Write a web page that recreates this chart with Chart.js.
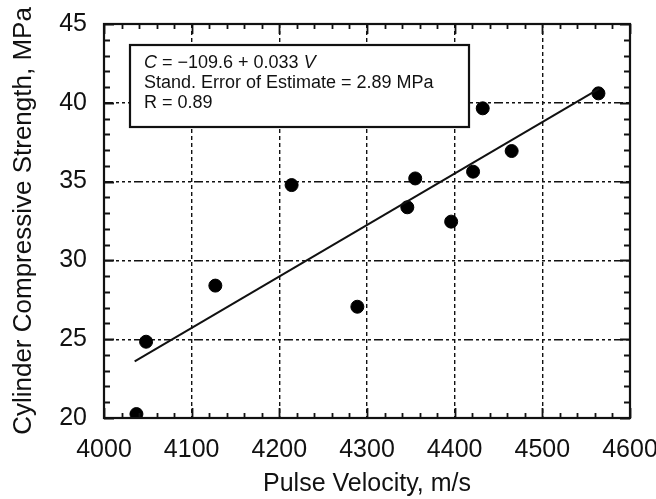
<!DOCTYPE html>
<html>
<head>
<meta charset="utf-8">
<script src="https://cdn.jsdelivr.net/npm/chart.js@4/dist/chart.umd.min.js"></script>
<style>
  html, body { margin: 0; padding: 0; background: #fff; }
  #wrap { width: 656px; height: 499px; }
</style>
</head>
<body>
<div id="wrap"><canvas id="chart" width="656" height="499"></canvas></div>
<script>
// ==== data ====
const velocity = [4037, 4048, 4127, 4214, 4289, 4346, 4355, 4396, 4421, 4432, 4465, 4564];
const strength = [20.25, 24.84, 28.4, 34.78, 27.06, 33.37, 35.2, 32.46, 35.63, 39.65, 36.94, 40.6];
const fitV = [4035, 4565];
const fitC = [23.6, 40.9];
const boxLines = ["Stand. Error of Estimate = 2.89 MPa", "R = 0.89"];

const FONT = "'Liberation Sans', Arial, Helvetica, sans-serif";
const NARROW = "'Liberation Sans Narrow', 'Arial Narrow', 'Liberation Sans', sans-serif";
const INK = "#111";

// inward ticks, top/right frame and the equation box
const extras = {
  id: "extras",
  afterDraw(chart) {
    const { ctx, chartArea: a, scales: { x, y } } = chart;
    ctx.save();
    ctx.strokeStyle = INK;
    ctx.lineWidth = 1.8;
    ctx.beginPath();
    for (let v = 4000; v <= 4600; v += 20) {
      const px = Math.round(x.getPixelForValue(v)) + 0.5;
      const len = v % 100 === 0 ? 10 : 5;
      ctx.moveTo(px, a.bottom); ctx.lineTo(px, a.bottom - len);
      ctx.moveTo(px, a.top); ctx.lineTo(px, a.top + len);
    }
    for (let v = 20; v <= 45; v += 1) {
      const py = Math.round(y.getPixelForValue(v)) + 0.5;
      const len = v % 5 === 0 ? 10 : 6;
      ctx.moveTo(a.left, py); ctx.lineTo(a.left + len, py);
      ctx.moveTo(a.right, py); ctx.lineTo(a.right - len, py);
    }
    ctx.stroke();
    ctx.lineWidth = 2.2;
    ctx.strokeRect(a.left, a.top, a.right - a.left, a.bottom - a.top);

    // equation box
    const bx = a.left + 26, by = a.top + 21, bw = 339, bh = 82;
    ctx.fillStyle = "#fff";
    ctx.fillRect(bx, by, bw, bh);
    ctx.lineWidth = 2.2;
    ctx.strokeRect(bx, by, bw, bh);

    ctx.fillStyle = INK;
    ctx.textBaseline = "middle";
    ctx.textAlign = "left";
    let tx = bx + 14, ty = by + 18;
    const parts = [
      ["C", true], [" = \u2212109.6 + 0.033 ", false], ["V", true]
    ];
    parts.forEach(([t, it]) => {
      ctx.font = (it ? "italic " : "") + "18px " + FONT;
      ctx.fillText(t, tx, ty);
      tx += ctx.measureText(t).width;
    });
    ctx.font = "18px " + FONT;
    boxLines.forEach((t, i) => ctx.fillText(t, bx + 14, ty + 20 * (i + 1)));
    ctx.restore();
  }
};

new Chart(document.getElementById("chart"), {
  type: "scatter",
  data: {
    datasets: [
      {
        type: "line",
        data: fitV.map((v, i) => ({ x: v, y: fitC[i] })),
        borderColor: INK,
        borderWidth: 2,
        pointRadius: 0,
        fill: false
      },
      {
        data: velocity.map((v, i) => ({ x: v, y: strength[i] })),
        backgroundColor: "#000",
        borderColor: "#000",
        pointRadius: 6.5,
        pointHoverRadius: 6.5
      }
    ]
  },
  options: {
    responsive: false,
    animation: false,
    layout: { padding: { left: 0, right: 26, top: 24, bottom: 0 } },
    plugins: { legend: { display: false }, tooltip: { enabled: false } },
    scales: {
      x: {
        type: "linear",
        min: 4000, max: 4600,
        afterFit: s => { s.height = 81; s.paddingLeft = 0; s.paddingRight = 0; },
        ticks: { stepSize: 100, color: INK, padding: 17, font: { family: NARROW, size: 25 },
                 callback: v => String(v) },
        grid: { color: INK, lineWidth: 1.4, drawTicks: false },
        border: { display: false, dash: [4, 3] },
        title: { display: true, text: "Pulse Velocity, m/s", color: INK,
                 font: { family: FONT, size: 25 }, padding: { top: 0, bottom: 0 } }
      },
      y: {
        min: 20, max: 45,
        afterFit: s => { s.width = 104; s.paddingTop = 0; s.paddingBottom = 0; },
        ticks: { stepSize: 5, color: INK, padding: 17, font: { family: NARROW, size: 25 } },
        grid: { color: INK, lineWidth: 1.4, drawTicks: false },
        border: { display: false, dash: [9, 3, 3, 3, 3, 3, 3, 3] },
        title: { display: true, text: "Cylinder Compressive Strength, MPa", color: INK,
                 font: { family: FONT, size: 26 }, padding: { top: 8, bottom: 0 } }
      }
    }
  },
  plugins: [extras]
});
</script>
</body>
</html>
